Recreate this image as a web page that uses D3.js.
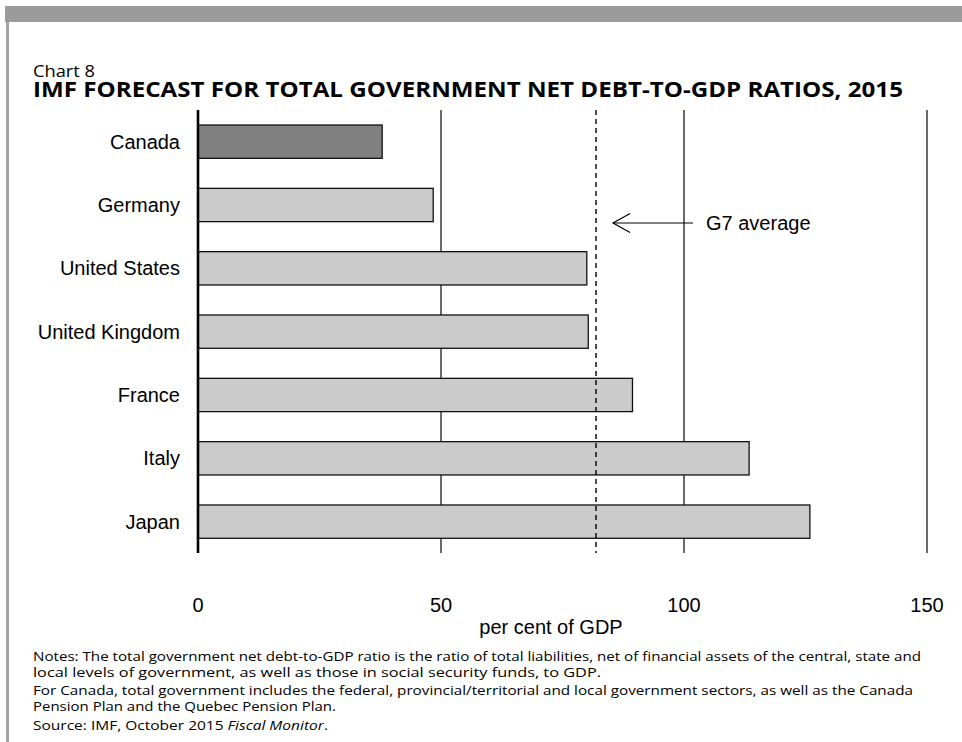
<!DOCTYPE html>
<html>
<head>
<meta charset="utf-8">
<script src="https://cdn.jsdelivr.net/npm/d3@7"></script>
<style>
  html, body { margin: 0; padding: 0; background: #fff; }
  svg { display: block; }
</style>
</head>
<body>
<svg id="chart" width="962" height="742"></svg>
<script>
// ---- data ----
const categories = ["Canada", "Germany", "United States", "United Kingdom", "France", "Italy", "Japan"];
const values = [37.9, 48.4, 80.0, 80.3, 89.4, 113.4, 125.9];
const highlight = ["Canada"];
const g7Average = 81.9;
const xTicks = [0, 50, 100, 150];
const xTickLabels = ["0", "50", "100", "150"];
const chartLabel = "Chart 8";
const chartTitle = "IMF FORECAST FOR TOTAL GOVERNMENT NET DEBT-TO-GDP RATIOS, 2015";
const axisTitle = "per cent of GDP";
const annotationText = "G7 average";
const noteLines = [
  "Notes: The total government net debt-to-GDP ratio is the ratio of total liabilities, net of financial assets of the central, state and",
  "local levels of government, as well as those in social security funds, to GDP.",
  "For Canada, total government includes the federal, provincial/territorial and local government sectors, as well as the Canada",
  "Pension Plan and the Quebec Pension Plan."
];
const sourcePrefix = "Source: IMF, October 2015 ";
const sourceItalic = "Fiscal Monitor";
const sourceSuffix = ".";

// ---- layout ----
const svg = d3.select("#chart");
const labelFont = "'Liberation Sans', Arial, sans-serif";
const textFont = "'Open Sans', 'Noto Sans', sans-serif";

const x = d3.scaleLinear().domain([0, 150]).range([198, 927]);
const y = d3.scaleBand().domain(categories).range([110, 553.3]).paddingInner(0.474).paddingOuter(0.237);
const plotTop = 110, plotBottom = 553;

// frame
svg.append("rect").attr("x", 5).attr("y", 6).attr("width", 957).attr("height", 16).attr("fill", "#9b9b9b");
svg.append("rect").attr("x", 6).attr("y", 22).attr("width", 3).attr("height", 720).attr("fill", "#a3a3a3");

// titles
svg.append("text").attr("x", 33).attr("y", 77)
  .attr("font-family", textFont).attr("font-size", 17).attr("fill", "#000")
  .attr("textLength", 62).attr("lengthAdjust", "spacingAndGlyphs")
  .text(chartLabel);
svg.append("text").attr("x", 33).attr("y", 97)
  .attr("font-family", textFont).attr("font-weight", 700).attr("font-size", 21).attr("fill", "#000")
  .attr("textLength", 870).attr("lengthAdjust", "spacingAndGlyphs")
  .text(chartTitle);

// gridlines (non-zero ticks)
svg.append("g").selectAll("line").data(xTicks.filter(d => d !== 0)).join("line")
  .attr("x1", d => x(d)).attr("x2", d => x(d))
  .attr("y1", plotTop).attr("y2", plotBottom)
  .attr("stroke", "#3a3a3a").attr("stroke-width", 1.5);

// bars
svg.append("g").selectAll("rect").data(categories).join("rect")
  .attr("x", x(0))
  .attr("y", d => y(d))
  .attr("width", (d, i) => x(values[i]) - x(0))
  .attr("height", y.bandwidth())
  .attr("fill", d => highlight.includes(d) ? "#808080" : "#cbcbcb")
  .attr("stroke", "#111").attr("stroke-width", 1.3);

// G7 average dashed line
svg.append("line")
  .attr("x1", x(g7Average)).attr("x2", x(g7Average))
  .attr("y1", plotTop).attr("y2", plotBottom)
  .attr("stroke", "#000").attr("stroke-width", 1.4).attr("stroke-dasharray", "5,4");

// zero axis line
svg.append("line")
  .attr("x1", x(0)).attr("x2", x(0))
  .attr("y1", plotTop).attr("y2", plotBottom)
  .attr("stroke", "#000").attr("stroke-width", 2.6);

// category labels
svg.append("g").selectAll("text").data(categories).join("text")
  .attr("x", 180)
  .attr("y", d => y(d) + y.bandwidth() / 2)
  .attr("dy", "0.35em")
  .attr("text-anchor", "end")
  .attr("font-family", labelFont).attr("font-size", 20).attr("fill", "#000")
  .text(d => d);

// x tick labels
svg.append("g").selectAll("text").data(xTicks).join("text")
  .attr("x", d => x(d))
  .attr("y", 612)
  .attr("text-anchor", "middle")
  .attr("font-family", labelFont).attr("font-size", 20).attr("fill", "#000")
  .text((d, i) => xTickLabels[i]);

// axis title
svg.append("text")
  .attr("x", 551).attr("y", 634)
  .attr("text-anchor", "middle")
  .attr("font-family", labelFont).attr("font-size", 20).attr("fill", "#000")
  .text(axisTitle);

// G7 annotation arrow
const ay = 223;
const ax0 = x(g7Average) + 17;
svg.append("line").attr("x1", ax0).attr("x2", 693).attr("y1", ay).attr("y2", ay)
  .attr("stroke", "#000").attr("stroke-width", 1.2);
svg.append("path")
  .attr("d", `M${ax0 + 17},${ay - 9.5} L${ax0},${ay} L${ax0 + 17},${ay + 9.5}`)
  .attr("fill", "none").attr("stroke", "#000").attr("stroke-width", 1.2);
svg.append("text").attr("x", 706).attr("y", ay).attr("dy", "0.35em")
  .attr("font-family", labelFont).attr("font-size", 20).attr("fill", "#000")
  .text(annotationText);

// notes
const noteY = [661, 677, 695, 711];
const noteW = [888, 568, 880, 303];
noteLines.forEach((t, i) => {
  svg.append("text").attr("x", 33).attr("y", noteY[i])
    .attr("font-family", textFont).attr("font-size", 12.5).attr("fill", "#000")
    .attr("textLength", noteW[i]).attr("lengthAdjust", "spacingAndGlyphs")
    .text(t);
});
const src = svg.append("text").attr("x", 33).attr("y", 730)
  .attr("font-family", textFont).attr("font-size", 12.5).attr("fill", "#000")
  .attr("textLength", 295).attr("lengthAdjust", "spacingAndGlyphs");
src.append("tspan").text(sourcePrefix);
src.append("tspan").attr("font-style", "italic").text(sourceItalic);
src.append("tspan").text(sourceSuffix);
</script>
</body>
</html>
